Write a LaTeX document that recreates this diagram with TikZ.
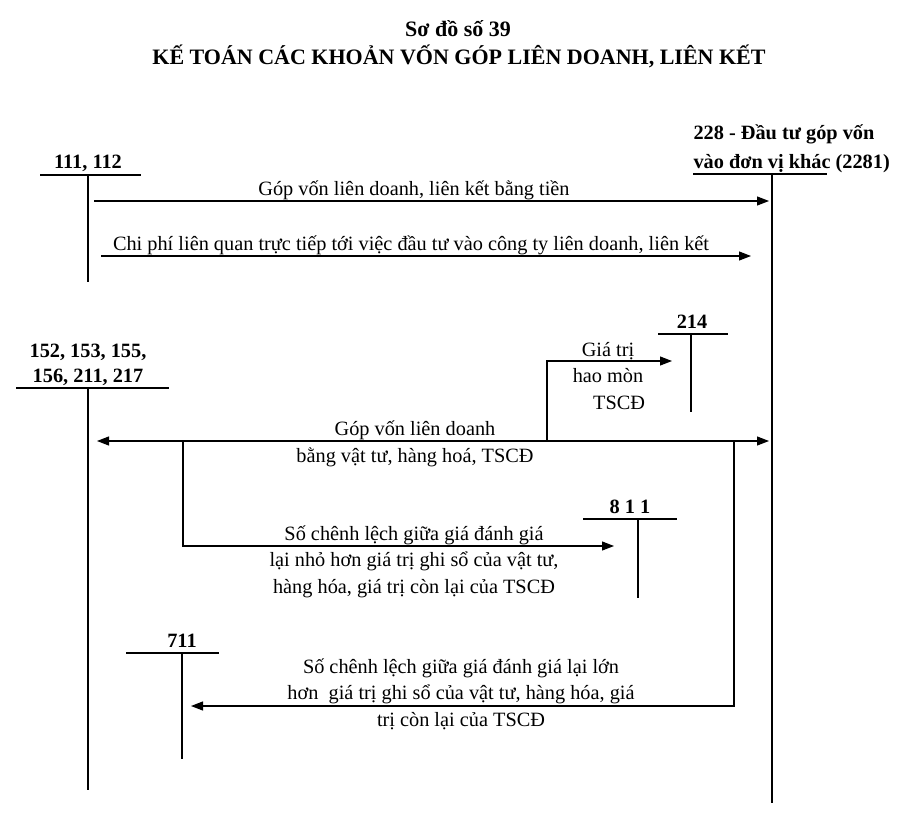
\documentclass[tikz,border=0pt]{standalone}
\usepackage{fontspec}
\setmainfont{Liberation Serif}
\usetikzlibrary{arrows.meta}

\begin{document}
\begin{tikzpicture}[x=1pt,y=-1pt,line width=1.1pt,
  ttl/.style={font=\fontsize{22}{26}\selectfont\bfseries,inner sep=0pt,anchor=base},
  acc/.style={font=\fontsize{20.3}{26}\selectfont\bfseries,inner sep=0pt,anchor=base},
  txt/.style={font=\fontsize{20.3}{26.3}\selectfont,inner sep=0pt,anchor=base,align=center},
  arr/.style={-{Triangle[length=12pt,width=9pt]}},
  darr/.style={{Triangle[length=12pt,width=9pt]}-{Triangle[length=12pt,width=9pt]}}]
\useasboundingbox (0,0) rectangle (920,821);
% title
\node[ttl] (head) at (458,37) {Sơ đồ số 39};
\node[ttl] (title) at (459,65) {KẾ TOÁN CÁC KHOẢN VỐN GÓP LIÊN DOANH, LIÊN KẾT};
% accounts
\node[acc] (n111) at (88,168) {111, 112};
\draw (40,175) -- (141,175) (88,175) -- (88,282);
\node[acc,anchor=base west] (n228a) at (693,140) {228 - Đầu tư góp vốn};
\node[acc,anchor=base west] (n228b) at (693,168) {vào đơn vị khác (2281)};
\draw (693,174) -- (827,174);
\draw[line width=2.6pt] (772,174) -- (772,803);
\node[acc] (n152a) at (88,357) {152, 153, 155,};
\node[acc] (n152b) at (88,382) {156, 211, 217};
\draw (16,388) -- (169,388) (88,388) -- (88,790);
\node[acc] (n214) at (692,328) {214};
\draw (658,334) -- (728,334) (691,334) -- (691,412);
\node[acc] (n811) at (630,513) {8 1 1};
\draw (583,519) -- (677,519) (638,519) -- (638,598);
\node[acc] (n711) at (182,647) {711};
\draw (126,653) -- (219,653) (182,653) -- (182,759);
% end points
\coordinate (cashA) at (94,201);   \coordinate (invA) at (769,201);
\coordinate (cashB) at (101,256);  \coordinate (invB) at (751,256);
\coordinate (goods) at (97,441);   \coordinate (invC) at (769,441);
\coordinate (dep) at (547,441);    \coordinate (acc214) at (672,361);
\coordinate (loss) at (183,441);   \coordinate (acc811) at (614,546);
\coordinate (gain) at (734,441);   \coordinate (acc711) at (191,706);
% flows
\draw[arr] (cashA) -- (invA);
\draw[arr] (cashB) -- (invB);
\draw[darr] (goods) -- (invC);
\draw[arr] (dep) |- (acc214);
\draw[arr] (loss) |- (acc811);
\draw[arr] (gain) |- (acc711);
% labels (base = last line)
\node[txt] (l1) at (414,196) {Góp vốn liên doanh, liên kết bằng tiền};
\node[txt] (l2) at (411,250) {Chi phí liên quan trực tiếp tới việc đầu tư vào công ty liên doanh, liên kết};
\node[txt] (l3) at (608,409) {Giá trị\\hao mòn\\\hspace*{1.1em}TSCĐ};
\node[txt] (l4) at (415,462) {Góp vốn liên doanh\\bằng vật tư, hàng hoá, TSCĐ};
\node[txt] (l5) at (414,593) {Số chênh lệch giữa giá đánh giá\\lại nhỏ hơn giá trị ghi sổ của vật tư,\\hàng hóa, giá trị còn lại của TSCĐ};
\node[txt] (l6) at (461,726) {Số chênh lệch giữa giá đánh giá lại lớn\\hơn\ \ giá trị ghi sổ của vật tư, hàng hóa, giá\\trị còn lại của TSCĐ};
\end{tikzpicture}
\end{document}
